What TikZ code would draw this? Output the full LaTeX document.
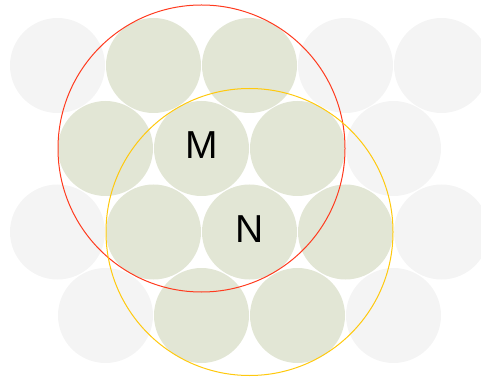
\documentclass[tikz,border=0pt]{standalone}
\usepackage{fontspec}
\setsansfont{Liberation Sans}
\definecolor{cgreen}{HTML}{E2E6D5}
\definecolor{cgrey}{HTML}{F4F4F4}
\definecolor{cred}{HTML}{FF3B1F}
\definecolor{cyellow}{HTML}{FFC90E}
\tikzset{
  every picture/.style={font=\sffamily, x=1pt, y=-1pt},
  ball/.style={circle, fill=#1, minimum size=95pt, inner sep=0pt},
  ball/.default=cgrey,
  reach/.style={circle, draw=#1, line width=1pt, minimum size=287pt, inner sep=0pt},
  tag/.style={font=\fontsize{39}{40}\sffamily, inner sep=0pt},
}
\begin{document}
\begin{tikzpicture}
  \useasboundingbox (0,0) rectangle (481,379);
  % packed balls, row by row
  \foreach \col [count=\c] in {cgrey,cgreen,cgreen,cgrey,cgrey}
    \node[ball=\col] (r1c\c) at (57.5+96*\c-96, 65.5) {};
  \foreach \col [count=\c] in {cgreen,cgreen,cgreen,cgrey}
    \node[ball=\col] (r2c\c) at (105.5+96*\c-96, 148.5) {};
  \foreach \col [count=\c] in {cgrey,cgreen,cgreen,cgreen,cgrey}
    \node[ball=\col] (r3c\c) at (57.5+96*\c-96, 232) {};
  \foreach \col [count=\c] in {cgrey,cgreen,cgreen,cgrey}
    \node[ball=\col] (r4c\c) at (105.5+96*\c-96, 315.5) {};
  % neighbourhoods of M and N
  \node[reach=cred] (zoneM) at (r2c2) {};
  \node[reach=cyellow] (zoneN) at (r3c3) {};
  \node[tag] (M) at ([yshift=3pt]r2c2.center) {M};
  \node[tag] (N) at ([yshift=3pt]r3c3.center) {N};
\end{tikzpicture}
\end{document}
